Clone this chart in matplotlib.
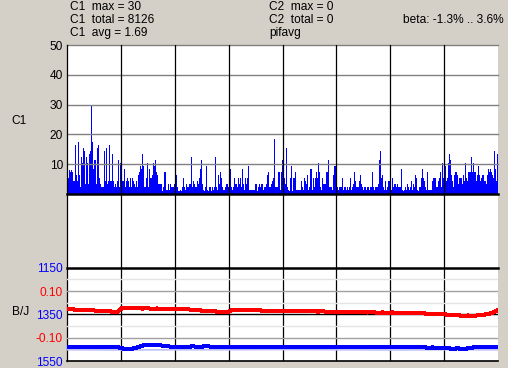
import matplotlib.pyplot as plt
import numpy as np

W, H = 508, 368

# C1 counts, one bar per screen column
c1 = [14, 5.5, 8, 7.5, 8, 7.5, 4.5, 4.5, 16.5, 6.5, 4.5, 17.5, 6.5, 2.5, 12.5, 10.5, 15.5, 14.5,
      3.5, 12.5, 10.5, 3.5, 13.5, 14.5, 30, 17.5, 8.5, 11.5, 11.5, 3.5, 15.5, 16.5, 5.5, 3.5, 2.5, 2.5,
      2.5, 14.5, 4.5, 15.5, 3.5, 4.5, 16.5, 4.5, 4.5, 13.5, 4.5, 2.5, 3.5, 2.5, 4.5, 11.5, 2.5, 10.5,
      10.5, 4.5, 4.5, 8.5, 2.5, 4.5, 5.5, 4.5, 2.5, 5.5, 2.5, 5.5, 4.5, 3.5, 2.5, 4.5, 2.5, 6.5,
      7.5, 9.5, 8.5, 13.5, 9.5, 2.5, 2.5, 5.5, 10.5, 2.5, 8.5, 5.5, 5.5, 6.5, 10.5, 9.5, 11.5, 7.5,
      6.5, 3.5, 3.5, 3.5, 3.5, 1, 2.5, 7.5, 7.5, 1.5, 1.5, 3.5, 1.5, 3.5, 2.5, 2.5, 2.5, 3.5,
      3.5, 6.5, 2.5, 1, 1, 1.5, 1, 2.5, 5.5, 2.5, 1.5, 3.5, 2.5, 2.5, 3.5, 3.5, 12.5, 2.5,
      4.5, 3.5, 2.5, 2.5, 4.5, 3.5, 5.5, 8.5, 11.5, 3.5, 1.5, 1, 2.5, 9.5, 1.5, 1, 2.5, 2.5,
      1, 2.5, 1.5, 2.5, 12.5, 2.5, 1.5, 6.5, 3.5, 7.5, 5.5, 2.5, 1.5, 1.5, 2.5, 3.5, 3.5, 2.5,
      2.5, 8.5, 2.5, 1.5, 2.5, 5.5, 3.5, 3.5, 2.5, 5.5, 3.5, 5.5, 2.5, 8.5, 3.5, 1.5, 5.5, 3.5,
      5.5, 9.5, 1.5, 1.5, 1.5, 1.5, 1.5, 1.5, 3.5, 3.5, 1, 2.5, 3.5, 2.5, 3.5, 3.5, 1.5, 2.5,
      2.5, 3.5, 6.5, 7.5, 2.5, 2.5, 3.5, 4.5, 5.5, 18.5, 2.5, 2.5, 2.5, 7.5, 7.5, 1.5, 7.5, 11.5,
      11.5, 5.5, 3.5, 15.5, 2.5, 1.5, 1, 5.5, 9.5, 1, 5.5, 5.5, 7.5, 1.5, 1.5, 1.5, 1.5, 1.5,
      4.5, 2.5, 1.5, 5.5, 4.5, 3.5, 6.5, 1.5, 2.5, 8.5, 8.5, 1.5, 5.5, 2.5, 5.5, 7.5, 5.5, 10.5,
      7.5, 2.5, 1.5, 5.5, 3.5, 3.5, 3.5, 7.5, 7.5, 11.5, 2.5, 2.5, 2.5, 1.5, 6.5, 9.5, 9.5, 2.5,
      2.5, 1.5, 2.5, 2.5, 2.5, 5.5, 1.5, 2.5, 2.5, 1.5, 2.5, 1.5, 2.5, 5.5, 1.5, 2.5, 3.5, 7.5,
      4.5, 2.5, 2.5, 2.5, 4.5, 6.5, 3.5, 2.5, 1.5, 2.5, 2.5, 1.5, 2.5, 2.5, 1.5, 2.5, 2.5, 7.5,
      2.5, 1.5, 2.5, 2.5, 2.5, 3.5, 11.5, 14.5, 5.5, 6.5, 2.5, 1.5, 4.5, 1.5, 2.5, 4.5, 4.5, 2.5,
      1.5, 5.5, 2.5, 3.5, 3.5, 2.5, 3.5, 2.5, 2.5, 2.5, 8.5, 1.5, 1, 1.5, 2.5, 1.5, 3.5, 2.5,
      1.5, 2.5, 4.5, 1.5, 3.5, 2.5, 6.5, 5.5, 1.5, 1, 2.5, 2.5, 5.5, 8.5, 5.5, 4.5, 2.5, 1.5,
      7.5, 1.5, 1.5, 1.5, 1.5, 4.5, 5.5, 5.5, 5.5, 2.5, 2.5, 4.5, 5.5, 7.5, 2.5, 10.5, 5.5, 7.5,
      9.5, 4.5, 5.5, 10.5, 13.5, 11.5, 6.5, 4.5, 2.5, 6.5, 7.5, 7.5, 6.5, 3.5, 5.5, 5.5, 5.5, 3.5,
      6.5, 4.5, 10.5, 5.5, 4.5, 7.5, 7.5, 7.5, 12.5, 7.5, 10.5, 7.5, 7.5, 4.5, 6.5, 9.5, 6.5, 4.5,
      5.5, 6.5, 6.5, 4.5, 4.5, 3.5, 6.5, 8.5, 7.5, 8.5, 7.5, 6.5, 5.5, 14.5, 8.5, 4.5, 13.5]

# B/J red series (scale -0.2 .. 0.2)
red = [0.021, 0.022, 0.019, 0.020, 0.017, 0.018, 0.015, 0.016, 0.013, 0.012, 0.010,
       0.027, 0.028, 0.026, 0.027, 0.025, 0.026, 0.024, 0.025, 0.023, 0.024, 0.023,
       0.023, 0.021, 0.022, 0.019, 0.018, 0.016, 0.015, 0.013, 0.012, 0.010, 0.009,
       0.020, 0.019, 0.020, 0.018, 0.017, 0.018, 0.016, 0.015, 0.014, 0.015, 0.013,
       0.015, 0.016, 0.014, 0.015, 0.013, 0.014, 0.012, 0.013, 0.011, 0.012, 0.011,
       0.012, 0.010, 0.011, 0.009, 0.010, 0.008, 0.009, 0.007, 0.008, 0.007, 0.008,
       0.007, 0.006, 0.007, 0.005, 0.006, 0.004, 0.003, 0.002, 0.001, 0.000, -0.001,
       -0.002, -0.004, -0.006, -0.005, -0.007, -0.004, -0.002, 0.001, 0.008, 0.018]

# B/J blue series (1150 .. 1550, inverted)
blue = [1490, 1489, 1491, 1490, 1492, 1490, 1489, 1491, 1490, 1489, 1490,
        1496, 1498, 1497, 1492, 1484, 1482, 1483, 1481, 1484, 1486, 1490,
        1489, 1488, 1490, 1487, 1489, 1488, 1487, 1489, 1488, 1490, 1489,
        1488, 1490, 1489, 1491, 1489, 1488, 1490, 1489, 1488, 1490, 1489,
        1489, 1488, 1490, 1489, 1491, 1488, 1489, 1490, 1488, 1489, 1490,
        1489, 1490, 1488, 1489, 1491, 1489, 1490, 1488, 1489, 1490, 1489,
        1490, 1489, 1491, 1490, 1492, 1491, 1493, 1492, 1494, 1495, 1496,
        1497, 1496, 1498, 1496, 1492, 1490, 1489, 1488, 1489, 1488]
blue_lt = [1502, 1503, 1502, 1502, 1501, 1502, 1503, 1502, 1502]

c1_ticks = [10, 20, 30, 40, 50]
bj_ticks = [1150, 1350, 1550]
red_ticks = [0.10, -0.10]
red_labels = ['0.10', '-0.10']


def box(x0, y0, x1, y1):
    return [x0 / W, 1 - y1 / H, (x1 - x0) / W, (y1 - y0) / H]


def clean(ax):
    for s in ax.spines.values():
        s.set_visible(False)
    ax.set_xticks([])


plt.rcParams['font.family'] = ['Liberation Sans', 'DejaVu Sans']
fs = 8.6
BG = '#d4d0c8'

fig = plt.figure(figsize=(W / 100, H / 100), dpi=100, facecolor=BG)

# white plotting area
bg = fig.add_axes(box(67, 45, 498, 361))
bg.set_facecolor('white')
clean(bg)
bg.set_yticks([])
bg.set_zorder(0)

# upper panel: C1 bars (one column each)
ax = fig.add_axes(box(67, 45, 498, 194))
ax.set_facecolor('none')
clean(ax)
ax.stairs(c1, np.arange(len(c1) + 1), fill=True, color='#0000ff', lw=0, zorder=1)
ax.set_xlim(0, len(c1))
ax.set_ylim(0, 50)
for t in c1_ticks:
    ax.axhline(t, color='#808080', lw=1.0, zorder=3, clip_on=False)
ax.axhline(0, color='black', lw=1.8, zorder=4, clip_on=False)
ax.set_yticks(c1_ticks)
ax.tick_params(axis='y', length=0, pad=3, labelsize=fs)
ax.set_zorder(1)

# lower panel: B/J lines
axb = fig.add_axes(box(67, 267.7, 498, 361))
axb.set_facecolor('none')
clean(axb)
axb.set_xlim(0, len(blue) - 1)
axb.set_ylim(1550, 1150)
for v in [1200, 1300, 1400, 1500]:
    axb.axhline(v, color='#e4e4e4', lw=1.0, zorder=0)
for v in [1250, 1450]:
    axb.axhline(v, color='#a0a0a0', lw=1.0, zorder=0)
axb.axhline(1350, color='black', lw=1.0, zorder=0)
axb.axhline(1550, color='black', lw=1.2, zorder=0, clip_on=False)
axb.axhline(1150, color='black', lw=1.8, zorder=0, clip_on=False)
axb.plot(np.linspace(0, len(blue) - 1, len(blue_lt)), blue_lt, color='#b8b8ff', lw=1.0, zorder=1)
axb.plot(np.arange(len(blue)), blue, color='#0000ff', lw=2.2, zorder=2, antialiased=False)
axb.set_yticks(bj_ticks)
axb.tick_params(axis='y', length=0, pad=3, labelsize=fs, labelcolor='#0000ff')
axb.set_zorder(3)

axr = axb.twinx()
axr.set_facecolor('none')
clean(axr)
axr.set_ylim(-0.2, 0.2)
axr.plot(np.arange(len(red)), red, color='#ff0000', lw=2.2, antialiased=False)
axr.yaxis.tick_left()
axr.set_yticks(red_ticks)
axr.set_yticklabels(red_labels)
axr.tick_params(axis='y', length=0, pad=3, labelsize=fs, labelcolor='#ff0000')
axr.set_zorder(4)

# vertical divisions
ov = fig.add_axes(box(67, 45, 498, 361))
ov.set_facecolor('none')
clean(ov)
ov.set_yticks([])
ov.set_xlim(0, 8)
for k in range(1, 8):
    ov.axvline(k, color='black', lw=0.9)
ov.axvline(0, color='black', lw=0.9, clip_on=False)
ov.set_zorder(2)


# labels and header
def txt(x, y, s, **kw):
    fig.text(x / W, 1 - y / H, s, fontsize=fs, va='center', **kw)


txt(11, 121, 'C1')
txt(12, 312, 'B/J')
txt(70, 7, 'C1  max = 30')
txt(70, 20, 'C1  total = 8126')
txt(70, 33, 'C1  avg = 1.69')
txt(269, 7, 'C2  max = 0')
txt(269, 20, 'C2  total = 0')
txt(269, 33, 'pifavg')
txt(504, 20, 'beta: -1.3% .. 3.6%', ha='right')

fig.savefig('out.png', dpi=100, facecolor=BG)
